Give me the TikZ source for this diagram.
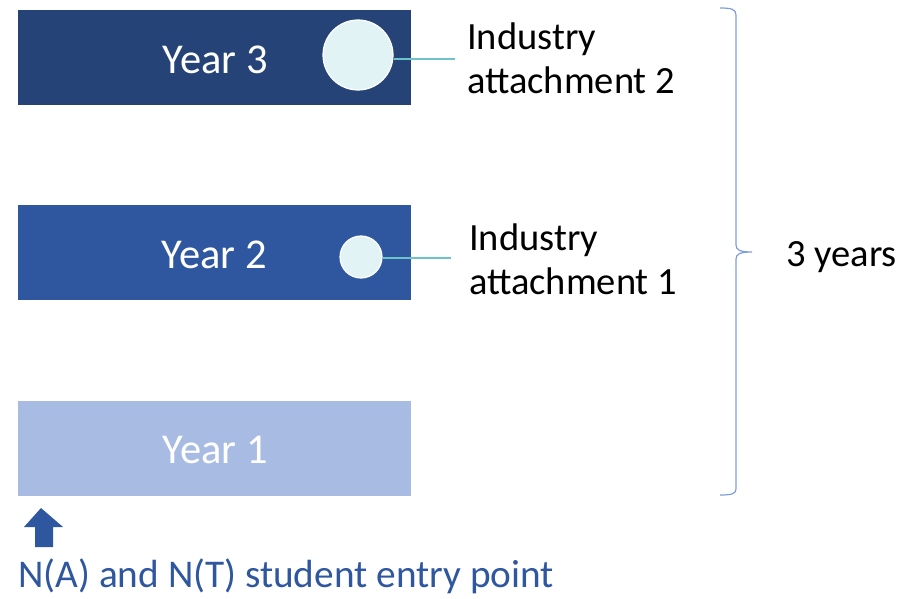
\documentclass[tikz,border=0pt]{standalone}
\usepackage{fontspec}
\setmainfont{Carlito}
\definecolor{yrthree}{HTML}{254377}
\definecolor{yrtwo}{HTML}{2F579F}
\definecolor{yrone}{HTML}{A8BCE3}
\definecolor{circfill}{HTML}{E2F3F5}
\definecolor{tealline}{HTML}{6EC3CB}
\definecolor{bracecol}{HTML}{7F9ED8}
\definecolor{entryblue}{HTML}{2F579F}
\begin{document}
\begin{tikzpicture}[x=1pt,y=-1pt,
  yearbox/.style={draw=none,minimum width=393pt,minimum height=95pt,inner sep=0pt},
  yeartext/.style={inner sep=0pt,text=white,font=\fontsize{42.5}{50}\selectfont},
  attcircle/.style={circle,fill=circfill,draw=white,line width=1.2pt,inner sep=0pt},
  attlabel/.style={anchor=west,align=left,inner sep=0pt,font=\fontsize{38.5}{44}\selectfont},
  attline/.style={draw=tealline,line width=1.2pt}]
\useasboundingbox (0,0) rectangle (914,599);
\node[yearbox,fill=yrthree] (y3) at (214.5,57.5) {};
\node[yearbox,fill=yrtwo] (y2) at (214.5,252.5) {};
\node[yearbox,fill=yrone] (y1) at (214.5,448) {};
\node[yeartext] (t3) at (215,60) {Year 3};
\node[yeartext] (t2) at (214,255) {Year 2};
\node[yeartext] (t1) at (215,450) {Year 1};
\node[attcircle,minimum size=70pt] (c3) at (358,55) {};
\node[attcircle,minimum size=42pt] (c2) at (361,257) {};
\node[attlabel] (l3) at (467,58) {Industry\\attachment 2};
\node[attlabel] (l2) at (469,259) {Industry\\attachment 1};
\coordinate (e3) at (455,59);
\coordinate (e2) at (451,258);
\draw[attline] (c3.east |- e3) -- (e3);
\draw[attline] (c2.east |- e2) -- (e2);
\draw[bracecol,line width=1.2pt] (720,8) .. controls (731,8) and (736,9) .. (736,15) -- (736,245) .. controls (736,250) and (740,252) .. (752,252)
  .. controls (740,252) and (736,254) .. (736,259) -- (736,489) .. controls (736,494) and (731,495) .. (720,495);
\node[attlabel] (yrs) at (786,257) {3 years};
\fill[entryblue] (41,508) -- (63,527) -- (53,527) -- (53,547) -- (35,547) -- (35,527) -- (24,527) -- cycle;
\node[anchor=west,inner sep=0pt,text=entryblue,font=\fontsize{39.3}{46}\selectfont] (entry) at (18,576) {N(A) and N(T) student entry point};
\end{tikzpicture}
\end{document}
